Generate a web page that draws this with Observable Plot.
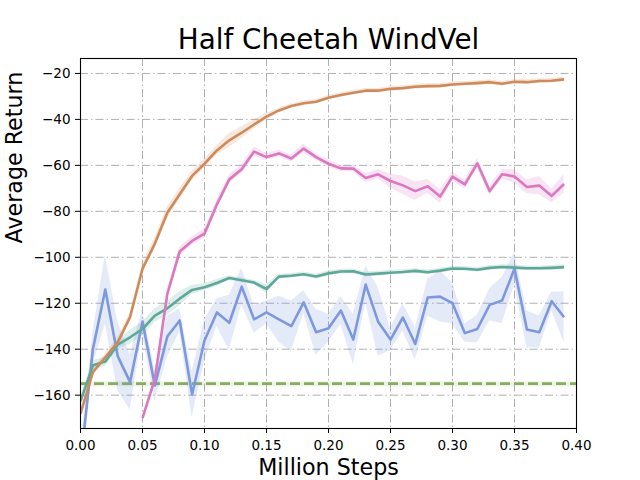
<!DOCTYPE html>
<html>
<head>
<meta charset="utf-8">
<script src="https://cdn.jsdelivr.net/npm/d3@7"></script>
<script src="https://cdn.jsdelivr.net/npm/@observablehq/plot@0.6"></script>
<style>
  html, body { margin: 0; padding: 0; background: #fff; }
  #chart svg { display: block; }
</style>
</head>
<body>
<div id="chart"></div>
<script>
const title = "Half Cheetah WindVel";
const xLabel = "Million Steps";
const yLabel = "Average Return";

const xTicks = [0.00, 0.05, 0.10, 0.15, 0.20, 0.25, 0.30, 0.35, 0.40];
const yTicks = [-20, -40, -60, -80, -100, -120, -140, -160];

const steps = [0.00, 0.01, 0.02, 0.03, 0.04, 0.05, 0.06, 0.07, 0.08, 0.09,
               0.10, 0.11, 0.12, 0.13, 0.14, 0.15, 0.16, 0.17, 0.18, 0.19,
               0.20, 0.21, 0.22, 0.23, 0.24, 0.25, 0.26, 0.27, 0.28, 0.29,
               0.30, 0.31, 0.32, 0.33, 0.34, 0.35, 0.36, 0.37, 0.38, 0.39];

const orangeMean = [-168, -150, -143.5, -137, -126, -105, -94, -80.6, -72.6, -64.6,
                    -59.3, -53.5, -49.1, -45.8, -42.2, -38.8, -36.1, -34.2, -33, -32.3,
                    -30.6, -29.4, -28.4, -27.5, -27.5, -26.7, -26.4, -25.8, -25.5, -25.4,
                    -24.8, -24.5, -24.2, -23.8, -24.5, -23.6, -23.8, -23.3, -23.2, -22.6];
const orangeSpread = [1, 1.5, 1.5, 2, 2, 2, 2.5, 2.5, 2.5, 2,
                      2, 2, 3, 2.5, 2, 1.5, 1, 1, 1, 1,
                      1, 1, 1, 1, 1, 1, 1, 1, 1, 1,
                      1, 1, 1, 1, 1, 1, 1, 1, 1, 1];

const pinkSteps = [0.05, 0.06, 0.07, 0.08, 0.09,
                   0.10, 0.11, 0.12, 0.13, 0.14, 0.15, 0.16, 0.17, 0.18, 0.19,
                   0.20, 0.21, 0.22, 0.23, 0.24, 0.25, 0.26, 0.27, 0.28, 0.29,
                   0.30, 0.31, 0.32, 0.33, 0.34, 0.35, 0.36, 0.37, 0.38, 0.39];
const pinkMean = [-170, -153, -116, -97.5, -92.9,
                  -89.7, -77, -66.1, -61.7, -54, -56.4, -54.8, -57, -52.7, -56.4,
                  -59.3, -61.3, -61.4, -65.5, -63.9, -66.8, -68.7, -71.2, -69.1, -73.6,
                  -64.9, -68.3, -59.1, -71.2, -63.9, -64.8, -69.4, -68.8, -73.3, -68.1];
const pinkSpread = [1, 2, 2, 2, 2,
                    2, 2, 2, 2, 2, 1.5, 1.5, 1.5, 2, 1.5,
                    1.5, 1.5, 1.5, 2, 2, 3, 4, 4, 3, 3,
                    2, 2, 2, 2, 2, 3, 3, 4, 3, 4];

const greenMean = [-162.7, -147, -145.4, -138, -134.8, -131.2, -125.4, -122.2, -118, -114.2,
                   -113, -111.2, -109, -110, -111, -113.8, -108.4, -108, -107.4, -108.4,
                   -107, -106.2, -106.1, -107.5, -107.1, -106.7, -106.4, -105.9, -106.5, -105.8,
                   -104.9, -105, -105.4, -104.6, -104.2, -104.5, -104.8, -104.8, -104.6, -104.3];
const greenSpread = [1.5, 2, 2, 2, 3, 3, 3, 3, 3, 2,
                     1.5, 1.5, 1, 1, 1, 2, 1, 1, 1, 1,
                     1, 1, 1, 1, 1, 1, 1, 1, 1, 1,
                     1, 1, 1, 1, 1, 1, 1, 1, 1, 1];

const blueMean = [-190, -140, -114, -143, -154.3, -128, -155.8, -134.5, -127.5, -159.7,
                  -136.2, -124, -128.5, -112.8, -127, -124, -127, -130, -119.6, -132.6,
                  -130.9, -123.2, -135.8, -111.9, -128, -135.8, -126.2, -137.7, -117.5, -117.1,
                  -120, -133, -131.2, -120.7, -118.8, -105, -131.4, -132.6, -119.1, -126.1];
const blueSpread = [6, 7, 15, 15, 12, 5, 7, 9, 5, 10,
                    9, 6, 12, 8, 6, 5, 10, 11, 5, 10,
                    6, 6, 11, 8, 15, 5, 6, 7, 8, 11,
                    9, 4, 6, 7, 10, 7, 8, 7, 4, 11];

const baseline = [-155];

const colors = {
  orange: "#cf8a5c",
  pink: "#da78c0",
  green: "#5ea89a",
  blue: "#7d98dc",
  dashed: "#86ad5e"
};

function band(mean, spread, xsArr, color) {
  return Plot.areaY(mean, {
    x: xsArr,
    y1: mean.map((v, i) => v - spread[i]),
    y2: mean.map((v, i) => v + spread[i]),
    fill: color, fillOpacity: 0.2, clip: true
  });
}
function line(mean, xsArr, color) {
  return Plot.line(mean, {
    x: xsArr, y: mean, stroke: color, strokeWidth: 2.6, clip: true,
    strokeLinejoin: "round", strokeLinecap: "butt"
  });
}

const fmtY = d => (d < 0 ? "\u2212" : "") + Math.abs(d);
const grid = { stroke: "#b0b0b0", strokeOpacity: 1, strokeWidth: 1, strokeDasharray: "8,3,1.5,3" };

const chart = Plot.plot({
  width: 640,
  height: 480,
  marginLeft: 80,
  marginRight: 64,
  marginTop: 58,
  marginBottom: 52,
  style: { fontFamily: "DejaVu Sans", fontSize: "13.5px", color: "#000", background: "#fff" },
  x: { domain: [0, 0.4] },
  y: { domain: [-174.5, -13.5] },
  marks: [
    Plot.gridX(xTicks.slice(1, -1), grid),
    Plot.gridY(yTicks, grid),
    Plot.ruleY(baseline, { stroke: colors.dashed, strokeOpacity: 0.15, strokeWidth: 5 }),
    Plot.ruleY(baseline, { stroke: colors.dashed, strokeWidth: 2.7, strokeDasharray: "10,4" }),
    band(blueMean, blueSpread, steps, colors.blue),
    band(greenMean, greenSpread, steps, colors.green),
    band(orangeMean, orangeSpread, steps, colors.orange),
    band(pinkMean, pinkSpread, pinkSteps, colors.pink),
    line(blueMean, steps, colors.blue),
    line(greenMean, steps, colors.green),
    line(orangeMean, steps, colors.orange),
    line(pinkMean, pinkSteps, colors.pink),
    Plot.axisX(xTicks, { tickFormat: d3.format(".2f"), tickSize: 5, tickPadding: 7, label: null, fontSize: 13.5 }),
    Plot.axisY(yTicks, { tickFormat: fmtY, tickSize: 5, tickPadding: 5, label: null, fontSize: 13.5 }),
    Plot.frame({ stroke: "#000", strokeWidth: 1.1 }),
    Plot.text([title], { text: d => d, frameAnchor: "top", dy: -10, lineAnchor: "bottom", fontSize: 27.8 }),
    Plot.text([xLabel], { text: d => d, frameAnchor: "bottom", dy: 31, lineAnchor: "top", fontSize: 22.2 }),
    Plot.text([yLabel], { text: d => d, frameAnchor: "left", dx: -66, rotate: -90, fontSize: 22.2 })
  ]
});
document.getElementById("chart").appendChild(chart);
</script>
</body>
</html>
